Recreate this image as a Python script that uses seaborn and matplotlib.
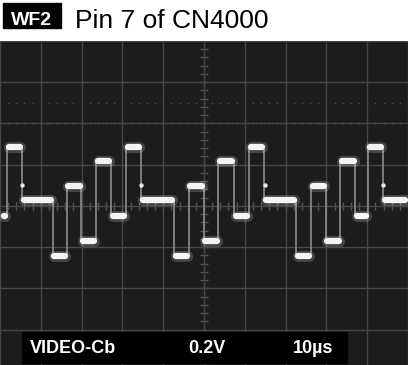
import numpy as np
import matplotlib
matplotlib.use('Agg')
import matplotlib.pyplot as plt
import seaborn as sns

# =============================================================================
# Data (time in us, level in V)
# =============================================================================

# times where the trace steps to a new level
edge_times = [0.49, 1.70, 5.35, 12.90, 16.30, 19.95, 23.60, 27.25, 30.90, 34.55,
              42.58, 46.23, 49.88, 53.53, 57.42, 61.07, 64.72, 72.51, 76.16,
              79.81, 83.45, 87.10, 90.27, 93.92, 99.76]

# level held after each edge (color bar steps of Cb)
step_levels = [-0.048, 0.284, 0.027, -0.241, 0.096, -0.169, 0.217, -0.048,
               0.284, 0.027, -0.241, 0.096, -0.169, 0.217, -0.048, 0.284,
               0.027, -0.241, 0.096, -0.169, 0.217, -0.048, 0.284, 0.027]

# small bright dots just after the blue step
dot_times = [5.35, 34.55, 64.96, 93.92]
dot_levels = [0.10, 0.10, 0.10, 0.10]

title_tag = 'WF2'
title_text = 'Pin 7 of CN4000'
channel_label = 'VIDEO-Cb'
volts_label = '0.2V'
time_label = '10\u00b5s'

# =============================================================================
# Plot
# =============================================================================

plt.rcParams['font.family'] = ['Liberation Sans', 'DejaVu Sans']

fig = plt.figure(figsize=(4.08, 3.65), dpi=100)
fig.patch.set_facecolor('white')

ax = fig.add_axes([0, 0, 1, 324 / 365])
ax.set_facecolor('#1c1c1c')
ax.set_xlim(0.49, 99.76)
ax.set_ylim(-0.771, 0.790)

# graticule
ax.set_xticks(np.arange(0, 101, 10))
ax.set_yticks(np.arange(-0.6, 0.81, 0.2))
ax.grid(True, color='#474747', lw=1.0)
ax.tick_params(length=0, labelbottom=False, labelleft=False)
for s in ax.spines.values():
    s.set_visible(False)

# minor ticks on the centre lines
minor_v = np.arange(-0.76, 0.8, 0.04)
ax.hlines(minor_v, 49.0, 51.0, color='#555555', lw=1.0, zorder=1)
minor_t = np.arange(2, 100, 2)
ax.vlines(minor_t, -0.02, 0.02, color='#555555', lw=1.0, zorder=1)

# dotted rows near the top
ax.scatter(minor_t, np.full(len(minor_t), 0.5), s=1.5, color='#4c4c4c', lw=0, zorder=1)
ax.scatter(minor_t, np.full(len(minor_t), 0.4), s=2.0, color='#5a5a5a', lw=0, zorder=1)

# thin edges of the trace
sns.lineplot(x=edge_times, y=step_levels + [step_levels[-1]], drawstyle='steps-post',
             estimator=None, sort=False, color='#8c8c8c', lw=1.2, ax=ax, zorder=3)

# bright plateaus with glow
starts = np.array(edge_times[:-1]) + 0.45
ends = np.array(edge_times[1:]) - 0.45
glow = ax.hlines(step_levels, starts, ends, color='white', lw=8, alpha=0.18, zorder=4)
glow.set_capstyle('round')
core = ax.hlines(step_levels, starts, ends, color='#f4f4f4', lw=4.5, zorder=5)
core.set_capstyle('round')

ax.scatter(dot_times, dot_levels, s=10, color='#e8e8e8', lw=0, zorder=5)

# =============================================================================
# Labels
# =============================================================================

# header tag box
fig.patches.append(plt.Rectangle((3 / 408, 337 / 365), 58 / 408, 25 / 365,
                                 transform=fig.transFigure, color='black', zorder=0))
fig.text(31.5 / 408, 340 / 365, title_tag, color='white', fontsize=14,
         fontweight='bold', ha='center', va='baseline')
fig.text(75 / 408, 336.7 / 365, title_text, color='black', fontsize=19,
         ha='left', va='baseline')

# bottom settings box
ax.add_patch(plt.Rectangle((22 / 408, 2 / 365), 325 / 408, 31 / 365,
                           transform=fig.transFigure, color='black', zorder=6))
fig.text(30 / 408, 12 / 365, channel_label, color='white', fontsize=13,
         fontweight='bold', ha='left', va='baseline', zorder=7)
fig.text(188 / 408, 12 / 365, volts_label, color='white', fontsize=13,
         fontweight='bold', ha='left', va='baseline', zorder=7)
fig.text(293 / 408, 12 / 365, time_label, color='white', fontsize=13,
         fontweight='bold', ha='left', va='baseline', zorder=7)

fig.savefig('out.png', dpi=100)
